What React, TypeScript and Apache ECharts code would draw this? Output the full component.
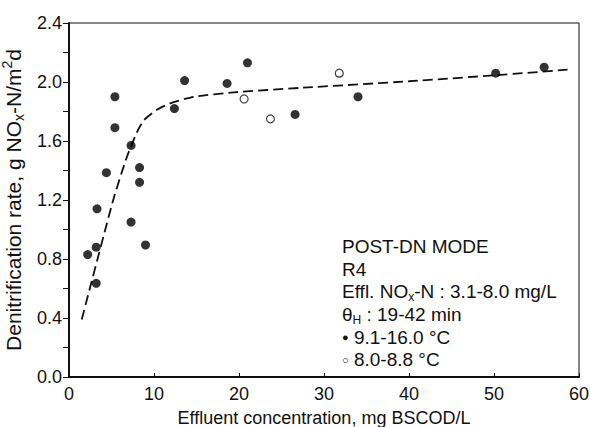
import React, { useEffect, useRef } from "react";
import * as echarts from "echarts";

// Filled circles: 9.1-16.0 °C
const warmX = [2.2, 3.2, 3.2, 3.3, 4.4, 5.4, 5.4, 7.3, 7.3, 8.3, 8.3, 9.0, 12.4, 13.6, 18.6, 21.0, 26.6, 34.0, 50.2, 55.9];
const warmY = [0.83, 0.88, 0.635, 1.14, 1.385, 1.90, 1.69, 1.57, 1.05, 1.42, 1.32, 0.895, 1.82, 2.01, 1.99, 2.13, 1.78, 1.90, 2.06, 2.10];
// Open circles: 8.0-8.8 °C
const coldX = [20.6, 23.7, 31.8];
const coldY = [1.885, 1.75, 2.06];
// Dashed fitted curve
const fitX = [1.5, 5.2, 6.8, 8.0, 8.8, 10.3, 11.9, 14.7, 19.4, 27.2, 40, 50, 59];
const fitY = [0.39, 1.2, 1.49, 1.66, 1.74, 1.81, 1.855, 1.9, 1.93, 1.96, 2.005, 2.045, 2.085];

const xTicks = [0, 10, 20, 30, 40, 50, 60];
const yLabels = ["0.0", "0.4", "0.8", "1.2", "1.6", "2.0", "2.4"];

const legendLines = [
  "POST-DN MODE",
  "R4",
  "Effl. NO{sub|x}-N : 3.1-8.0 mg/L",
  "θ{sub|H} : 19-42 min",
  "{dot|●} 9.1-16.0 °C",
  "{dot|○} 8.0-8.8 °C",
];

const FONT = "'Liberation Sans', Arial, Helvetica, sans-serif";

export default function App() {
  const ref = useRef<HTMLDivElement>(null);
  useEffect(() => {
    if (!ref.current) return;
    const chart = echarts.init(ref.current, null, { renderer: "svg" });
    const pair = (xs: number[], ys: number[]) => xs.map((x, i) => [x, ys[i]]);
    chart.setOption({
      animation: false,
      backgroundColor: "#ffffff",
      textStyle: { fontFamily: FONT, color: "#111" },
      grid: {
        left: 69,
        top: 23,
        width: 510,
        height: 354,
        show: true,
        borderColor: "#111",
        borderWidth: 1,
        backgroundColor: "transparent",
        outerBoundsMode: "none",
        containLabel: false,
      },
      xAxis: {
        type: "value",
        min: xTicks[0],
        max: xTicks[xTicks.length - 1],
        interval: 10,
        name: "Effluent concentration, mg BSCOD/L",
        nameLocation: "middle",
        nameGap: 33,
        nameTextStyle: { fontSize: 18, lineHeight: 16, fontFamily: FONT, color: "#111" },
        axisLine: { show: true, lineStyle: { color: "#111", width: 2 } },
        axisTick: { show: true, inside: true, length: 4, lineStyle: { color: "#111" } },
        axisLabel: { fontSize: 18, fontFamily: FONT, color: "#111", margin: 8 },
        splitLine: { show: false },
      },
      yAxis: {
        type: "value",
        min: 0,
        max: 2.4,
        interval: 0.2,
        name: "Denitrification rate, g NO{sub|x}-N/m{sup|2}d",
        nameLocation: "middle",
        nameGap: 35,
        nameRotate: 90,
        nameTextStyle: {
          fontSize: 21,
          fontFamily: FONT,
          color: "#111",
          lineHeight: 26,
          rich: {
            sub: { fontSize: 14, fontFamily: FONT, color: "#111", verticalAlign: "bottom", lineHeight: 26 },
            sup: { fontSize: 14, fontFamily: FONT, color: "#111", verticalAlign: "top", lineHeight: 26 },
          },
        },
        axisLine: { show: true, lineStyle: { color: "#111", width: 2 } },
        axisTick: { show: true, length: 6, lineStyle: { color: "#111" } },
        axisLabel: {
          fontSize: 18,
          fontFamily: FONT,
          color: "#111",
          margin: 7,
          formatter: (v: number) => {
            const k = Math.round(v * 10);
            return k % 4 === 0 ? yLabels[k / 4] : "";
          },
        },
        splitLine: { show: false },
      },
      graphic: [
        {
          type: "text",
          left: 342,
          top: 235,
          style: {
            text: legendLines.join("\n"),
            font: `19px ${FONT}`,
            fill: "#111",
            lineHeight: 22.7,
            rich: {
              sub: { fontSize: 12, fontFamily: FONT, fill: "#111", verticalAlign: "bottom", lineHeight: 22.7, padding: [6, 0, 0, 0] },
              dot: { fontSize: 11, fontFamily: FONT, fill: "#111", lineHeight: 22.7 },
            },
          },
        },
      ],
      series: [
        {
          type: "line",
          data: pair(fitX, fitY),
          showSymbol: false,
          smooth: 0.2,
          lineStyle: { color: "#111", width: 1.8, type: [10, 5] },
          z: 1,
        },
        {
          type: "scatter",
          data: pair(warmX, warmY),
          symbol: "circle",
          symbolSize: 9,
          itemStyle: { color: "#000" },
          z: 3,
        },
        {
          type: "scatter",
          data: pair(coldX, coldY),
          symbol: "circle",
          symbolSize: 8,
          itemStyle: { color: "#fff", borderColor: "#111", borderWidth: 1.2 },
          z: 3,
        },
      ],
    });
    return () => chart.dispose();
  }, []);
  return <div ref={ref} style={{ width: 590, height: 427, position: "absolute", left: 0, top: 0 }} />;
}
